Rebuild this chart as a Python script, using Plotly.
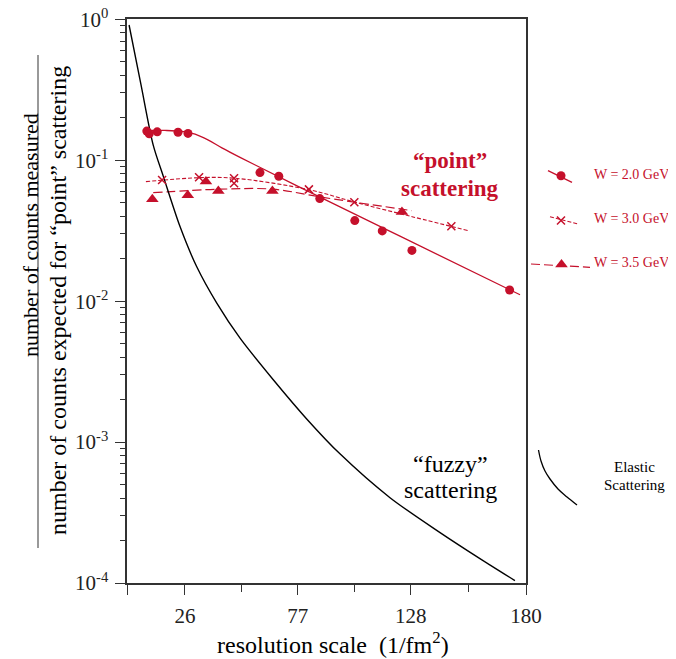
import plotly.graph_objects as go

# ---------------- data ----------------
# W = 2.0 GeV (circles, solid fit)
w20_x = [8.8, 9.9, 13.5, 22.9, 27.4, 59.9, 68.4, 86.9, 102.7, 115.1, 128.5, 172.6]
w20_y = [0.161, 0.154, 0.159, 0.158, 0.155, 0.0817, 0.077, 0.0534, 0.0373, 0.0315, 0.0229, 0.0120]
w20_fit_x = [7.1, 17.0, 24.7, 30.6, 36.4, 42.7, 50.9, 78.0, 123.1, 177.3]
w20_fit_y = [0.1627, 0.1627, 0.1601, 0.1529, 0.1393, 0.1223, 0.1047, 0.0642, 0.0289, 0.0111]

# W = 3.0 GeV (crosses, short-dashed fit)
w30_x = [15.7, 32.4, 48.2, 48.2, 82.0, 102.5, 146.3]
w30_y = [0.0725, 0.0757, 0.0745, 0.0687, 0.0621, 0.0504, 0.0340]
w30_fit_x = [8.4, 32.8, 48.6, 82.4, 101.8, 129.0, 153.8]
w30_fit_y = [0.0705, 0.0752, 0.0745, 0.0616, 0.0509, 0.0396, 0.0317]

# W = 3.5 GeV (triangles, long-dashed fit)
w35_x = [11.3, 27.3, 35.5, 41.1, 65.5, 124.0]
w35_y = [0.0529, 0.0565, 0.0705, 0.0606, 0.0606, 0.0430]
w35_fit_x = [11.7, 41.9, 65.8, 87.0, 128.4]
w35_fit_y = [0.0589, 0.0623, 0.0623, 0.0549, 0.0439]

# elastic ("fuzzy") scattering curve
el_x = [0.8, 6.2, 11.7, 16.3, 23.8, 31.3, 40.4, 50.9, 65.9, 81.0, 96.0, 118.6, 141.2, 159.2, 175.0]
el_y = [0.911, 0.342, 0.128, 0.0765, 0.0338, 0.0176, 0.00968, 0.00546, 0.00277,
        0.00146, 0.000825, 0.000403, 0.000228, 0.000149, 0.000104]

x_tickvals = [0, 26, 77, 128, 180]
x_ticktext = ["", "26", "77", "128", "180"]
x_minor = [51.5, 102.5, 154]
y_tickvals = [1, 0.1, 0.01, 0.001, 0.0001]
y_ticktext = ["10<sup>0</sup>", "10<sup>-1</sup>", "10<sup>-2</sup>", "10<sup>-3</sup>", "10<sup>-4</sup>"]
y_minor = [m * 10 ** e for e in range(-4, 0) for m in range(2, 10)]

legend_labels = ["W = 2.0 GeV", "W = 3.0 GeV", "W = 3.5 GeV"]

# ---------------- styling ----------------
RED = "#c5102b"
FONT = "Liberation Serif"
OFF = 8                       # page body margin of the viewer
W, H = 676 - OFF, 659 - OFF
PX_L, PX_R, PX_T, PX_B = 127.3, 526.0, 19.3, 583.0

def sx(v):
    return v - OFF

fig = go.Figure()

# fits
fig.add_trace(go.Scatter(x=w20_fit_x, y=w20_fit_y, mode="lines", line=dict(color=RED, width=1.3, shape="spline"), hoverinfo="skip"))
fig.add_trace(go.Scatter(x=w30_fit_x, y=w30_fit_y, mode="lines", line=dict(color=RED, width=1.1, dash="4px,2px", shape="spline"), hoverinfo="skip"))
fig.add_trace(go.Scatter(x=w35_fit_x, y=w35_fit_y, mode="lines", line=dict(color=RED, width=1.2, dash="9px,4px", shape="spline"), hoverinfo="skip"))
# elastic
fig.add_trace(go.Scatter(x=el_x, y=el_y, mode="lines", line=dict(color="black", width=1.4, shape="spline", smoothing=0.8), hoverinfo="skip"))
# data points
fig.add_trace(go.Scatter(x=w20_x, y=w20_y, mode="markers", marker=dict(symbol="circle", size=9, color=RED)))
fig.add_trace(go.Scatter(x=w30_x, y=w30_y, mode="markers", marker=dict(symbol="x-thin", size=8, line=dict(color=RED, width=1.5))))
fig.add_trace(go.Scatter(x=w35_x, y=w35_y, mode="markers", marker=dict(symbol="triangle-up", size=11, color=RED)))

# ---- overlay in pixel coordinates (legend samples, elastic glyph) ----
def px(xs, ys, **kw):
    fig.add_trace(go.Scatter(x=[sx(v) for v in xs], y=[sx(v) for v in ys],
                             xaxis="x2", yaxis="y2", hoverinfo="skip", **kw))

px([548, 572], [170.7, 182.3], mode="lines", line=dict(color=RED, width=1.3))
px([561], [175.7], mode="markers", marker=dict(symbol="circle", size=9, color=RED))
px([550, 578], [216.7, 224], mode="lines", line=dict(color=RED, width=1.1, dash="4px,2px"))
px([561], [220.5], mode="markers", marker=dict(symbol="x-thin", size=8, line=dict(color=RED, width=1.5)))
px([531, 590], [264, 267.3], mode="lines", line=dict(color=RED, width=1.2, dash="9px,4px"))
px([561.5], [264.5], mode="markers", marker=dict(symbol="triangle-up", size=11, color=RED))
px([538.5, 541, 545, 550, 558, 567, 577], [450, 461, 471, 479, 489, 497, 505],
   mode="lines", line=dict(color="black", width=1.3, shape="spline"))

axis_common = dict(showline=True, linecolor="#333", linewidth=1.5, mirror=True,
                   ticks="outside", tickcolor="#333", tickwidth=1.3,
                   showgrid=False, zeroline=False, automargin=False,
                   ticklabeloverflow="allow",
                   tickfont=dict(family=FONT, size=21, color="#222"))

fig.update_layout(
    width=W, height=H,
    margin=dict(l=0, r=0, t=0, b=0, pad=0, autoexpand=False),
    paper_bgcolor="white", plot_bgcolor="rgba(0,0,0,0)",
    showlegend=False,
    xaxis=dict(domain=[sx(PX_L) / W, sx(PX_R) / W], range=[0, 180], tickmode="array",
               tickvals=x_tickvals, ticktext=x_ticktext, ticklen=10, ticklabelstandoff=3,
               minor=dict(tickmode="array", tickvals=x_minor, ticks="outside", ticklen=7,
                          tickcolor="#333", tickwidth=1.3),
               **axis_common),
    yaxis=dict(domain=[1 - sx(PX_B) / H, 1 - sx(PX_T) / H], type="log", range=[-4, 0], tickmode="array",
               tickvals=y_tickvals, ticktext=y_ticktext, ticklen=11, ticklabelstandoff=2,
               minor=dict(tickmode="array", tickvals=y_minor, ticks="outside", ticklen=6,
                          tickcolor="#333", tickwidth=1.2),
               **axis_common),
    xaxis2=dict(domain=[0, 1], range=[0, W], visible=False, anchor="y2", automargin=False),
    yaxis2=dict(domain=[0, 1], range=[H, 0], visible=False, anchor="x2", automargin=False),
)

def ann(x, y, text, size, color="black", bold=False, xanchor="center", angle=0):
    if bold:
        text = "<b>" + text + "</b>"
    fig.add_annotation(x=sx(x), y=sx(y), xref="x2", yref="y2", text=text, showarrow=False,
                       xanchor=xanchor, yanchor="middle", textangle=angle,
                       font=dict(family=FONT, size=size, color=color))

ann(450, 160, "“point”", 23, RED, bold=True)
ann(450, 188, "scattering", 23, RED, bold=True)
ann(450, 464, "“fuzzy”", 24)
ann(450, 490, "scattering", 24)
for lab, yy in zip(legend_labels, [174, 218, 262]):
    ann(592, yy, lab, 14, RED, xanchor="left")
ann(634, 467, "Elastic", 15)
ann(634, 485, "Scattering", 15)
ann(333, 643, "resolution scale  (1/fm<sup>2</sup>)", 24)
ann(30, 235, "number of counts measured", 22, angle=-90)
ann(58, 301, "number of counts expected for “point” scattering", 24, angle=-90)

fig.add_shape(type="line", xref="x2", yref="y2", x0=sx(38), x1=sx(38), y0=sx(55), y1=sx(548),
              line=dict(color="#777", width=1.5))

fig.write_html("out.html")
